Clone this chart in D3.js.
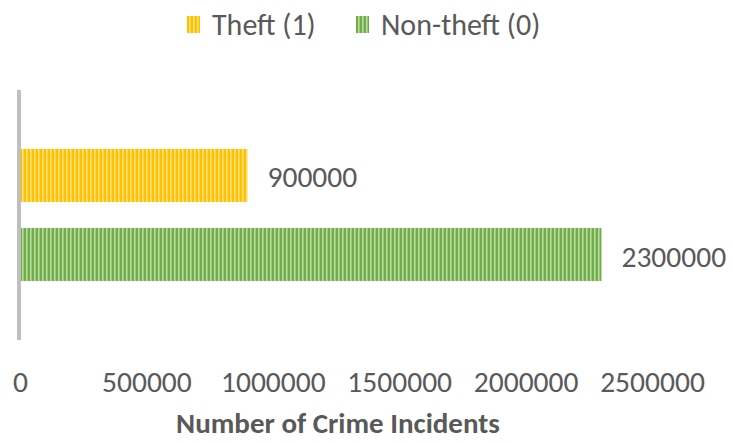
<!DOCTYPE html>
<html>
<head>
<meta charset="utf-8">
<script src="https://cdn.jsdelivr.net/npm/d3@7"></script>
<style>
  html, body { margin: 0; padding: 0; background: #fff; }
  svg { display: block; }
  text { font-family: Carlito, Lato, "Open Sans", sans-serif; fill: #595959; }
</style>
</head>
<body>
<svg id="chart" width="733" height="442"></svg>
<script>
// Crime incident counts by class
const seriesNames = ["Theft (1)", "Non-theft (0)"];
const seriesValues = [900000, 2300000];
const seriesColors = ["#FFC000", "#70AD47"];
const stripeColors = ["#FFE27A", "#B8DCA0"];
const tickValues = [0, 500000, 1000000, 1500000, 2000000, 2500000];
const axisTitle = "Number of Crime Incidents";

const svg = d3.select("#chart");

const x = d3.scaleLinear().domain([0, 2500000]).range([20, 652]);
const y = d3.scaleBand().domain(seriesNames).range([149, 281]).paddingInner(0.33).paddingOuter(0);

// vertical stripe fills for the bars
const defs = svg.append("defs");
seriesNames.forEach((name, i) => {
  const p = defs.append("pattern")
    .attr("id", "stripe" + i)
    .attr("patternUnits", "userSpaceOnUse")
    .attr("width", 4).attr("height", 8);
  p.append("rect").attr("width", 4).attr("height", 8).attr("fill", seriesColors[i]);
  p.append("rect").attr("x", 2).attr("width", 1.6).attr("height", 8).attr("fill", stripeColors[i]);
});

// category axis line
svg.append("line")
  .attr("x1", x(0) - 1).attr("x2", x(0) - 1)
  .attr("y1", 90).attr("y2", 340)
  .attr("stroke", "#BFBFBF").attr("stroke-width", 4);

// bars
svg.selectAll("rect.bar")
  .data(seriesNames)
  .join("rect")
  .attr("class", "bar")
  .attr("x", x(0) + 1)
  .attr("y", d => y(d))
  .attr("width", (d, i) => x(seriesValues[i]) - x(0) - 1)
  .attr("height", y.bandwidth())
  .attr("fill", (d, i) => `url(#stripe${i})`);

// value labels
svg.selectAll("text.value")
  .data(seriesNames)
  .join("text")
  .attr("class", "value")
  .attr("x", (d, i) => x(seriesValues[i]) + 20)
  .attr("y", d => y(d) + y.bandwidth() / 2 + 12)
  .attr("font-size", 29.5)
  .text((d, i) => seriesValues[i]);

// value axis labels
const xAxis = d3.axisBottom(x).tickValues(tickValues).tickSize(0).tickPadding(0).tickFormat(d3.format("d"));
const gx = svg.append("g").attr("transform", "translate(0,370)").call(xAxis);
gx.select(".domain").remove();
gx.selectAll("text")
  .attr("font-size", 29.5)
  .attr("dy", null)
  .attr("y", 22)
  .attr("fill", "#595959")
  .style("font-family", "Carlito, Lato, 'Open Sans', sans-serif");
gx.attr("font-family", null);

// axis title
svg.append("text")
  .attr("x", (x.range()[0] + x.range()[1]) / 2 + 2)
  .attr("y", 433)
  .attr("text-anchor", "middle")
  .attr("font-size", 29)
  .attr("font-weight", "bold")
  .text(axisTitle);

// legend
const legendX = [187, 356];
const lg = svg.selectAll("g.legend")
  .data(seriesNames)
  .join("g")
  .attr("class", "legend")
  .attr("transform", (d, i) => `translate(${legendX[i]},0)`);
lg.append("rect")
  .attr("x", 0).attr("y", 16).attr("width", 13).attr("height", 17)
  .attr("fill", (d, i) => `url(#stripe${i})`);
lg.append("text")
  .attr("x", 25).attr("y", 35)
  .attr("font-size", 30)
  .text(d => d);
</script>
</body>
</html>
